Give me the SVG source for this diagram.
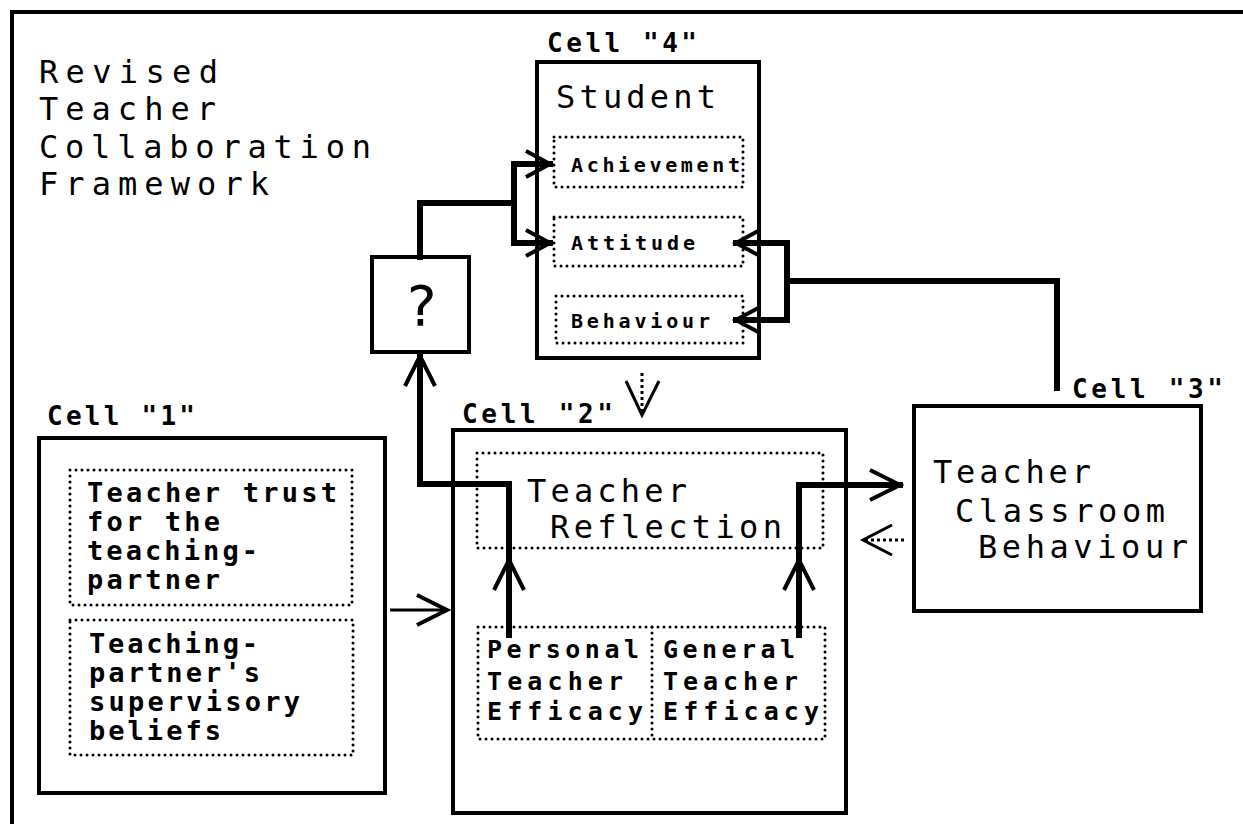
<svg xmlns="http://www.w3.org/2000/svg" width="1243" height="824" viewBox="0 0 1243 824">
  <style>
    .box { fill: none; stroke: #000; stroke-width: 4; }
    .dot { fill: none; stroke: #000; stroke-width: 3; stroke-dasharray: 0 6; stroke-linecap: round; }
    .wire { fill: none; stroke: #000; stroke-width: 6; stroke-linejoin: miter; stroke-linecap: square; }
    .thin { fill: none; stroke: #000; stroke-width: 3; }
    .dash { fill: none; stroke: #000; stroke-width: 3; stroke-dasharray: 3 3; }
    text { font-family: "DejaVu Sans Mono", "Liberation Mono", monospace; fill: #000; }
    .title { font-size: 32px; }
    .cell { font-size: 26px; font-weight: bold; }
    .big { font-size: 32px; }
    .mid { font-size: 27px; font-weight: bold; }
    .eff { font-size: 25px; font-weight: bold; }
    .small { font-size: 20px; font-weight: bold; }
  </style>
  <defs>
    <marker id="chev" markerUnits="userSpaceOnUse" markerWidth="36" markerHeight="36" viewBox="0 0 36 36" refX="33" refY="18" orient="auto" overflow="visible">
      <path d="M3,3 L33,18 L3,33" fill="none" stroke="#000" stroke-width="4" stroke-linejoin="miter"/>
    </marker>
    <marker id="chevS" markerUnits="userSpaceOnUse" markerWidth="30" markerHeight="30" viewBox="0 0 30 30" refX="27" refY="15" orient="auto" overflow="visible">
      <path d="M3,2 L27,15 L3,28" fill="none" stroke="#000" stroke-width="4" stroke-linejoin="miter"/>
    </marker>
  </defs>

  <!-- page frame (top and left edges only) -->
  <path d="M12,824 L12,12 L1243,12" class="box"/>

  <!-- title -->
  <g id="title">
    <text class="title" x="39" y="83" textLength="179">Revised</text>
    <text class="title" x="39" y="120" textLength="177">Teacher</text>
    <text class="title" x="39" y="158" textLength="332">Collaboration</text>
    <text class="title" x="39" y="195" textLength="230">Framework</text>
  </g>

  <!-- Cell 4: student outcomes -->
  <g id="cell4">
    <text class="cell" x="547" y="52" textLength="150">Cell "4"</text>
    <rect class="box" x="537" y="62" width="222" height="296"/>
    <text class="big" x="556" y="108" textLength="160">Student</text>
    <rect class="dot" x="554" y="137" width="189" height="50"/>
    <text class="small" x="571" y="172" textLength="169">Achievement</text>
    <rect class="dot" x="554" y="217" width="189" height="49"/>
    <text class="small" x="571" y="250" textLength="124">Attitude</text>
    <rect class="dot" x="556" y="296" width="187" height="47"/>
    <text class="small" x="571" y="328" textLength="139">Behaviour</text>
  </g>

  <!-- unknown link -->
  <g id="unknown">
    <rect class="box" x="372" y="257" width="97" height="95"/>
    <text x="421" y="325" font-size="56" text-anchor="middle">?</text>
  </g>

  <!-- Cell 1: partner factors -->
  <g id="cell1">
    <text class="cell" x="47" y="425" textLength="148">Cell "1"</text>
    <rect class="box" x="39" y="438" width="346" height="355"/>
    <rect class="dot" x="70" y="470" width="282" height="135"/>
    <text class="mid" x="87" y="502" textLength="250">Teacher trust</text>
    <text class="mid" x="87" y="531" textLength="133">for the</text>
    <text class="mid" x="87" y="560" textLength="171">teaching-</text>
    <text class="mid" x="87" y="589" textLength="133">partner</text>
    <rect class="dot" x="70" y="620" width="283" height="135"/>
    <text class="mid" x="89" y="653" textLength="169">Teaching-</text>
    <text class="mid" x="89" y="682" textLength="171">partner's</text>
    <text class="mid" x="89" y="711" textLength="211">supervisory</text>
    <text class="mid" x="89" y="740" textLength="132">beliefs</text>
  </g>

  <!-- Cell 2: reflection and efficacy -->
  <g id="cell2">
    <text class="cell" x="462" y="423" textLength="151">Cell "2"</text>
    <rect class="box" x="453" y="430" width="393" height="383"/>
    <rect class="dot" x="477" y="453" width="346" height="95"/>
    <text class="big" x="527" y="502" textLength="160">Teacher</text>
    <text class="big" x="550" y="538" textLength="232">Reflection</text>
    <rect class="dot" x="478" y="627" width="347" height="112"/>
    <line class="dot" x1="652" y1="627" x2="652" y2="739"/>
    <text class="eff" x="487" y="658" textLength="152">Personal</text>
    <text class="eff" x="487" y="690" textLength="136">Teacher</text>
    <text class="eff" x="487" y="720" textLength="156">Efficacy</text>
    <text class="eff" x="663" y="658" textLength="132">General</text>
    <text class="eff" x="663" y="690" textLength="135">Teacher</text>
    <text class="eff" x="663" y="720" textLength="156">Efficacy</text>
  </g>

  <!-- Cell 3: classroom behaviour -->
  <g id="cell3">
    <text class="cell" x="1072" y="398" textLength="151">Cell "3"</text>
    <rect class="box" x="914" y="406" width="287" height="205"/>
    <text class="big" x="933" y="483" textLength="158">Teacher</text>
    <text class="big" x="955" y="522" textLength="210">Classroom</text>
    <text class="big" x="978" y="558" textLength="210">Behaviour</text>
  </g>

  <!-- connectors -->
  <g id="connectors">
    <!-- Cell 1 to Cell 2 -->
    <line class="thin" x1="390" y1="610" x2="447" y2="610" stroke-width="5" marker-end="url(#chev)"/>
    <!-- personal efficacy to reflection, on to the unknown link -->
    <path class="wire" d="M509,635 L509,560" marker-end="url(#chev)"/>
    <path class="wire" d="M509,560 L509,484 L420,484 L420,356" marker-end="url(#chev)"/>
    <!-- general efficacy to reflection, on to Cell 3 -->
    <path class="wire" d="M799,635 L799,560" marker-end="url(#chev)"/>
    <path class="wire" d="M799,560 L799,485 L900,485" marker-end="url(#chev)"/>
    <!-- Cell 3 feedback to Cell 2 -->
    <line class="dash" x1="904" y1="540" x2="864" y2="540"/>
    <path d="M892,525 L863,540 L892,555" class="thin"/>
    <!-- Cell 4 feedback to Cell 2 -->
    <line class="dash" x1="642" y1="373" x2="642" y2="412"/>
    <path d="M626,381 L642,415 L659,381" class="thin"/>
    <!-- unknown link to achievement and attitude -->
    <path class="wire" d="M420,257 L420,203 L514,203"/>
    <path class="wire" d="M514,164 L514,243"/>
    <path class="wire" d="M514,164 L550,164" marker-end="url(#chevS)"/>
    <path class="wire" d="M514,243 L550,243" marker-end="url(#chevS)"/>
    <!-- Cell 3 to attitude and behaviour -->
    <path class="wire" d="M1057,388 L1057,281 L787,281"/>
    <path class="wire" d="M787,243 L787,320"/>
    <path class="wire" d="M787,243 L736,243" marker-end="url(#chevS)"/>
    <path class="wire" d="M787,320 L736,320" marker-end="url(#chevS)"/>
  </g>
</svg>
